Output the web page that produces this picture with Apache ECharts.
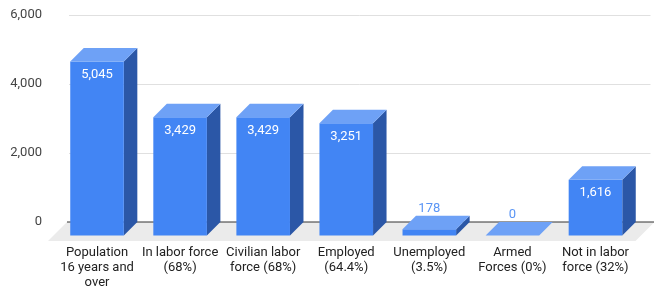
<!DOCTYPE html>
<html>
<head>
<meta charset="utf-8">
<script src="https://cdn.jsdelivr.net/npm/echarts@6/dist/echarts.min.js"></script>
<style>
  html, body { margin: 0; padding: 0; background: #fff; }
  #chart { width: 654px; height: 290px; }
</style>
</head>
<body>
<div id="chart"></div>
<script>
// categories (wrapped the way the labels show)
const categories = [
  'Population\n16 years and\nover',
  'In labor force\n(68%)',
  'Civilian labor\nforce (68%)',
  'Employed\n(64.4%)',
  'Unemployed\n(3.5%)',
  'Armed\nForces (0%)',
  'Not in labor\nforce (32%)'
];
const values = [5045, 3429, 3429, 3251, 178, 0, 1616];
const yTicks = [0, 2000, 4000, 6000];

const DEPTH = 13.5;   // bar depth in px
const FLOOR = 19;     // floor depth in px
const FRONT = '#4285f4', TOP = '#6ea1f6', SIDE = '#2b57a7';

const chart = echarts.init(document.getElementById('chart'));

function fmt(v) { return v.toLocaleString('en-US'); }

function renderBar(params, api) {
  const v = api.value(1);
  const top = api.coord([api.value(0), v]);
  const base = api.coord([api.value(0), 0]);
  const bw = api.size([1, 0])[0] * 0.645;
  const d = DEPTH;
  const xl = top[0] - bw / 2 - d, xr = xl + bw;
  const yt = top[1] + d, yb = base[1] + d;
  const children = [
    { type: 'polygon', shape: { points: [[xr, yt], [xr + d, yt - d], [xr + d, yb - d], [xr, yb]] },
      style: { fill: SIDE } },
    { type: 'rect', shape: { x: xl, y: yt, width: bw, height: yb - yt }, style: { fill: FRONT } },
    { type: 'polygon', shape: { points: [[xl, yt], [xr, yt], [xr + d, yt - d], [xl + d, yt - d]] },
      style: { fill: TOP } }
  ];
  const inside = yb - yt > 28;
  children.push({
    type: 'text',
    style: {
      text: fmt(v),
      x: xl + bw / 2,
      y: inside ? yt + 13.5 : top[1] - 7,
      align: 'center', verticalAlign: 'middle',
      fill: inside ? '#ffffff' : '#5a95f5',
      font: '13px Roboto'
    }
  });
  return { type: 'group', children: children };
}

function renderFloor(params, api) {
  if (params.dataIndex !== 0) return;
  const cs = params.coordSys;
  const y0 = api.coord([0, 0])[1];
  const x0 = cs.x - 2, x1 = cs.x + cs.width + 4;
  return {
    type: 'group',
    children: [
      { type: 'polygon',
        shape: { points: [[x0, y0], [x1, y0], [x1 - FLOOR, y0 + FLOOR], [x0 - FLOOR, y0 + FLOOR]] },
        style: { fill: '#ebebeb' } },
      { type: 'line', shape: { x1: x0, y1: y0, x2: x1, y2: y0 },
        style: { stroke: '#333333', lineWidth: 1 } }
    ]
  };
}

const option = {
  backgroundColor: '#ffffff',
  animation: false,
  textStyle: { fontFamily: 'Roboto' },
  grid: [
    { left: 69, right: 3.5, top: 15, bottom: 68 },
    { left: 69 - DEPTH, right: 3.5 + DEPTH, top: 15 + DEPTH, bottom: 68 - DEPTH }
  ],
  xAxis: [
    { type: 'category', gridIndex: 0, data: categories,
      axisLine: { show: false }, axisTick: { show: false }, axisLabel: { show: false } },
    { type: 'category', gridIndex: 1, data: categories,
      axisLine: { show: false }, axisTick: { show: false },
      axisLabel: { interval: 0, margin: 12, fontSize: 13, lineHeight: 15, color: '#222222' } }
  ],
  yAxis: [
    { type: 'value', gridIndex: 0, min: yTicks[0], max: yTicks[yTicks.length - 1], interval: 2000,
      axisLine: { show: false }, axisTick: { show: false },
      axisLabel: { margin: 27, fontSize: 13, color: '#444444', formatter: v => fmt(v) },
      splitLine: { lineStyle: { color: '#e0e0e0', width: 1 } } },
    { type: 'value', gridIndex: 1, min: yTicks[0], max: yTicks[yTicks.length - 1], show: false,
      splitLine: { show: false } }
  ],
  series: [
    { type: 'custom', name: 'floor', xAxisIndex: 0, yAxisIndex: 0, z: 1,
      renderItem: renderFloor, data: values.map((v, i) => [i, v]) },
    { type: 'custom', name: 'bars', xAxisIndex: 0, yAxisIndex: 0, z: 3,
      renderItem: renderBar, data: values.map((v, i) => [i, v]) }
  ]
};
chart.setOption(option);
</script>
</body>
</html>
